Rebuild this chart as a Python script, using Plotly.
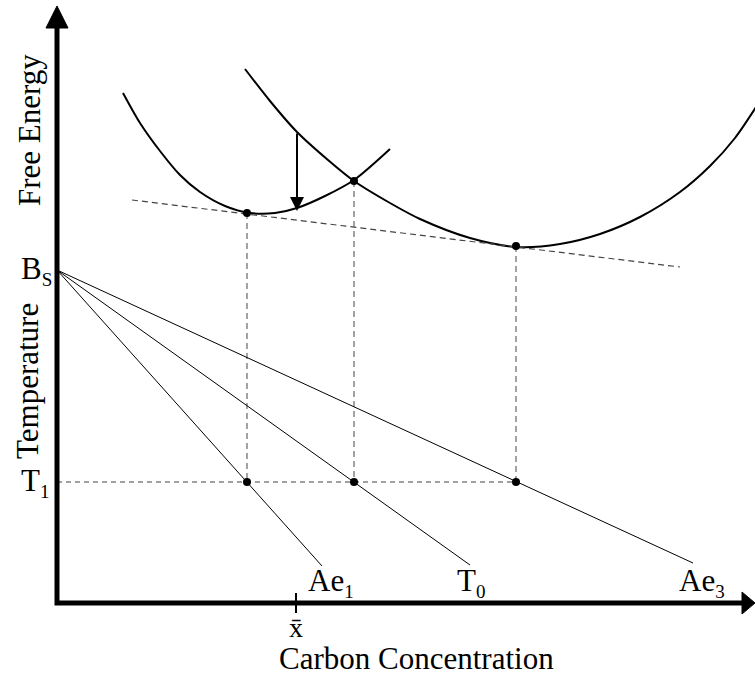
import plotly.graph_objects as go

# ---- data (diagram units: x = concentration, y = screen-down level) ----
alpha_x = [123, 140, 160, 180, 200, 225, 250, 275, 297, 325, 354, 390]
alpha_y = [93, 123, 151, 175, 192, 206, 213, 213, 208, 196, 180, 149]

gamma_x = [245, 270, 297, 328, 354, 390, 420, 470, 517, 560, 600, 640, 680, 710, 735, 758]
gamma_y = [69, 101, 132, 160, 181, 203, 219, 238, 247, 244, 234, 217, 192, 166, 138, 104]

tangent_x = [132, 680]
tangent_y = [200, 267]

bs_point = (57, 270)
line_ends_x = [322, 470, 693]
line_ends_y = [566, 565, 563]
line_labels = ["Ae", "T", "Ae"]
line_subs = ["1", "0", "3"]
label_x = [306, 455, 677]

key_x = [247, 354, 516]
key_energy = [213, 181, 246]
t1_level = 482

xbar_x = 296
axis_origin = (57, 603)
axis_top = 6
axis_right = 755

arrow_x = 297
arrow_from = 132
arrow_to = 211

FONT = "Liberation Serif"
fig = go.Figure()

# free energy curves
fig.add_trace(go.Scatter(x=alpha_x, y=alpha_y, mode="lines", line=dict(color="black", width=2, shape="spline", smoothing=0.8)))
fig.add_trace(go.Scatter(x=gamma_x, y=gamma_y, mode="lines", line=dict(color="black", width=2, shape="spline", smoothing=0.8)))
# common tangent
fig.add_trace(go.Scatter(x=tangent_x, y=tangent_y, mode="lines", line=dict(color="#444", width=1.2, dash="6px,4px")))
# vertical dashed drops
for kx, ky in zip(key_x, key_energy):
    fig.add_trace(go.Scatter(x=[kx, kx], y=[ky, t1_level], mode="lines", line=dict(color="#666", width=1.2, dash="6px,4px")))
# T1 horizontal dashed
fig.add_trace(go.Scatter(x=[axis_origin[0], key_x[-1]], y=[t1_level, t1_level], mode="lines", line=dict(color="#444", width=1.2, dash="5px,4px")))
# lines from Bs
for ex, ey in zip(line_ends_x, line_ends_y):
    fig.add_trace(go.Scatter(x=[bs_point[0], ex], y=[bs_point[1], ey], mode="lines", line=dict(color="black", width=1)))
# points
fig.add_trace(go.Scatter(x=key_x + key_x, y=key_energy + [t1_level] * len(key_x), mode="markers", marker=dict(color="black", size=8)))

# axes
fig.add_trace(go.Scatter(x=[axis_origin[0], axis_origin[0], axis_right - 12], y=[axis_top + 20, axis_origin[1], axis_origin[1]],
                         mode="lines", line=dict(color="black", width=5)))
# axis arrowheads
fig.add_shape(type="path", path=f"M {axis_origin[0]-11},{axis_top+22} L {axis_origin[0]},{axis_top} L {axis_origin[0]+11},{axis_top+22} Z",
              fillcolor="black", line=dict(color="black", width=1))
fig.add_shape(type="path", path=f"M {axis_right-13},{axis_origin[1]-11} L {axis_right},{axis_origin[1]} L {axis_right-13},{axis_origin[1]+11} Z",
              fillcolor="black", line=dict(color="black", width=1))
# xbar tick
fig.add_trace(go.Scatter(x=[xbar_x, xbar_x], y=[593, 613], mode="lines", line=dict(color="black", width=2)))

# vertical arrow
fig.add_annotation(x=arrow_x, y=arrow_to, ax=arrow_x, ay=arrow_from, xref="x", yref="y", axref="x", ayref="y",
                   showarrow=True, arrowhead=2, arrowsize=1.4, arrowwidth=2, arrowcolor="black", text="")

f = dict(family=FONT, size=31, color="black")
def sub(s):
    return f"<sub><span style='font-size:19px'>{s}</span></sub>"

fig.add_annotation(x=29, y=130, text="Free Energy", textangle=-90, showarrow=False, font=f, xanchor="center", yanchor="middle")
fig.add_annotation(x=27, y=381, text="Temperature", textangle=-90, showarrow=False, font=f, xanchor="center", yanchor="middle")
fig.add_annotation(x=416, y=658, text="Carbon Concentration", showarrow=False, font=f, xanchor="center", yanchor="middle")
fig.add_annotation(x=19, y=270, text="B" + sub("S"), showarrow=False, font=f, xanchor="left", yanchor="middle")
fig.add_annotation(x=19, y=482, text="T" + sub("1"), showarrow=False, font=f, xanchor="left", yanchor="middle")
for lx, lt, ls in zip(label_x, line_labels, line_subs):
    fig.add_annotation(x=lx, y=582, text=lt + sub(ls), showarrow=False, font=f, xanchor="left", yanchor="middle")
fig.add_annotation(x=xbar_x, y=627, text="x\u0304", showarrow=False,
                   font=dict(family=FONT, size=28, color="black"), xanchor="center", yanchor="middle")

fig.update_layout(width=755, height=675, margin=dict(l=0, r=0, t=0, b=0), showlegend=False,
                  plot_bgcolor="white", paper_bgcolor="white",
                  xaxis=dict(range=[0, 755], visible=False, fixedrange=True),
                  yaxis=dict(range=[675, 0], visible=False, fixedrange=True))
fig.write_html("out.html")
